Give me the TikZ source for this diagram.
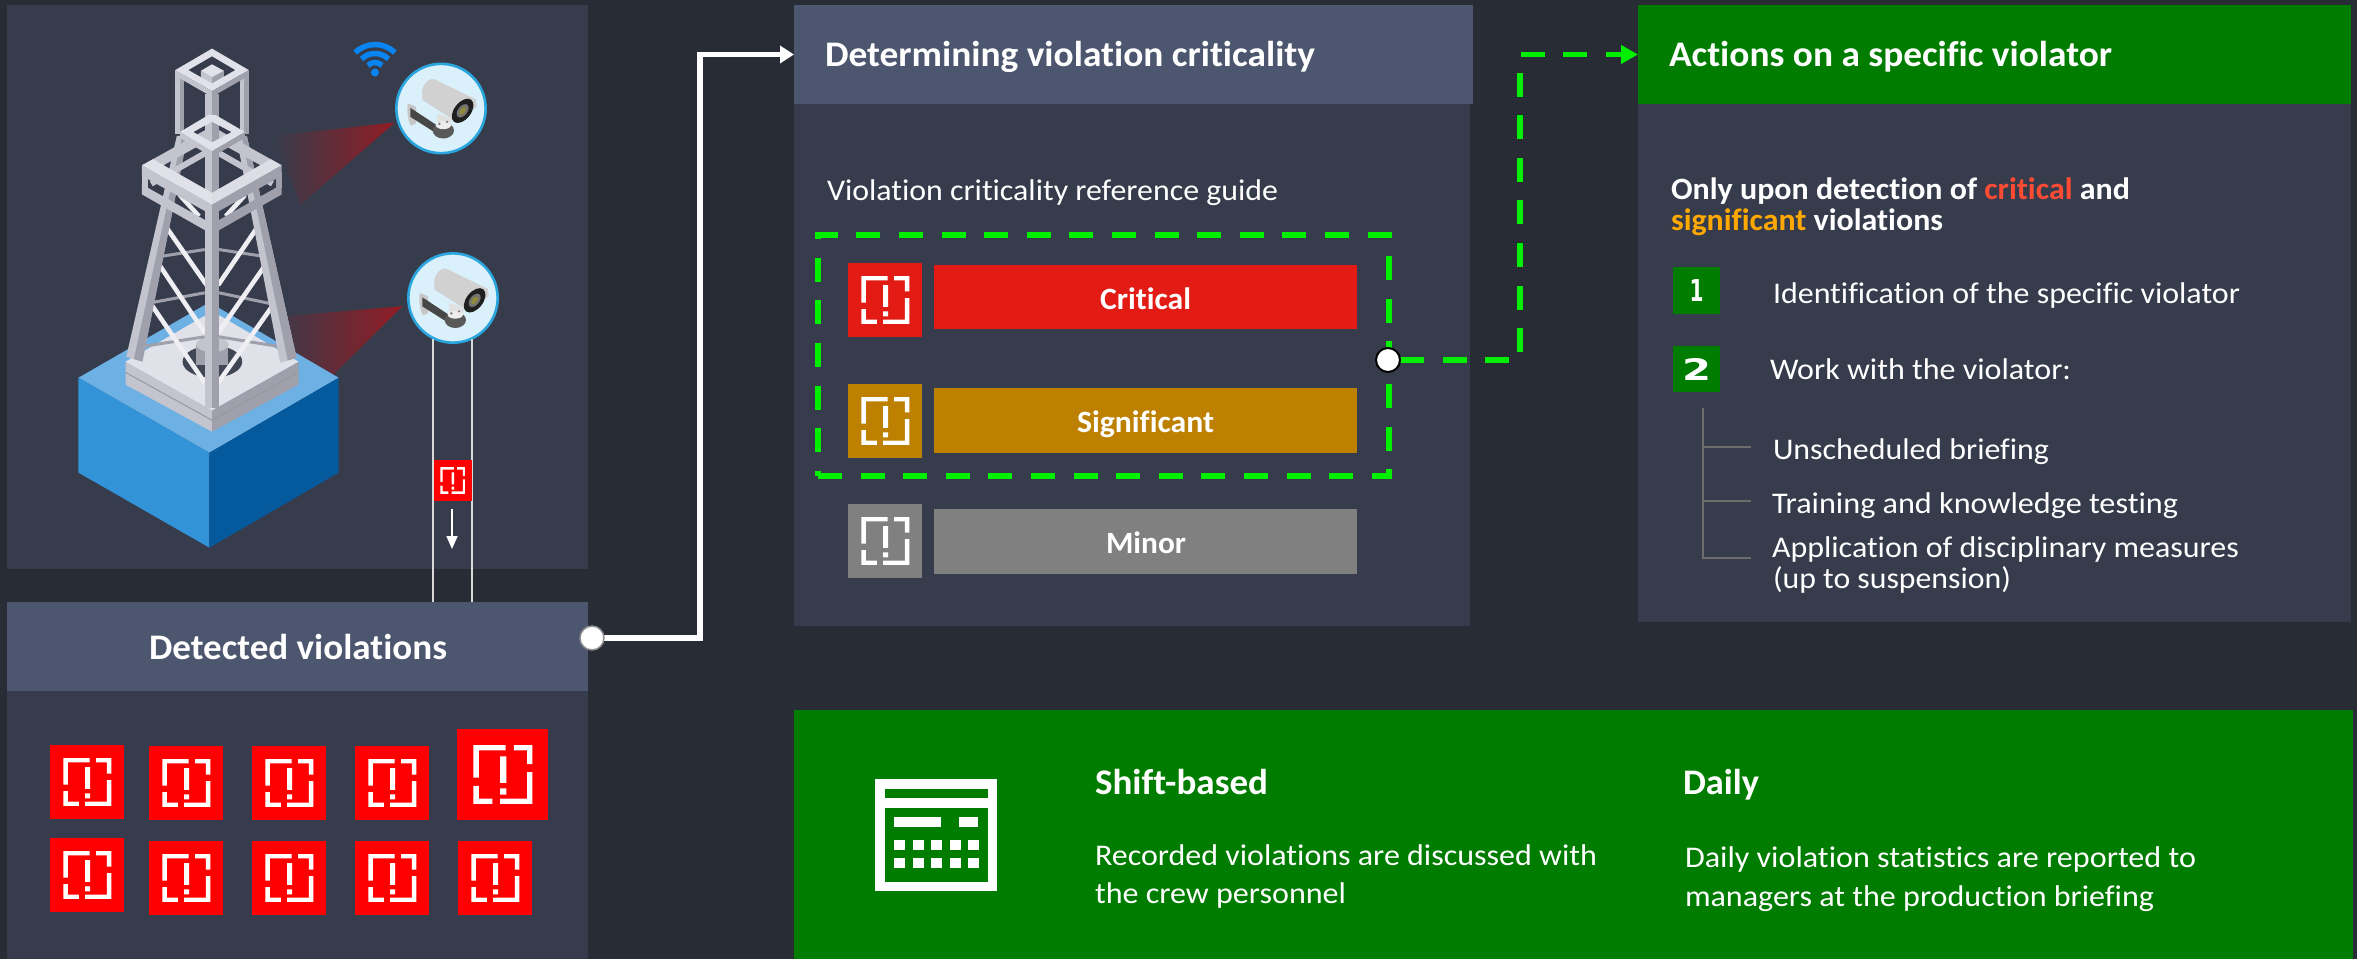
\documentclass[tikz,border=0pt]{standalone}
\usepackage{graphicx}
\usepackage{fontspec}
\setmainfont{Carlito}[Ligatures=NoCommon]
\newfontfamily\digitfont{DejaVu Sans}
\usetikzlibrary{arrows.meta,calc}
\definecolor{pagebg}{HTML}{282C35}
\definecolor{panel}{HTML}{363C4C}
\definecolor{head}{HTML}{4C566E}
\definecolor{dgreen}{HTML}{007D00}
\definecolor{lime}{HTML}{00F000}
\definecolor{critc}{HTML}{E21C14}
\definecolor{sigc}{HTML}{BD8000}
\definecolor{minc}{HTML}{808080}
\definecolor{vred}{HTML}{FF0000}
\definecolor{conered}{HTML}{921C24}
\definecolor{tlight}{HTML}{E0E1E9}
\definecolor{tmid}{HTML}{C4C4CF}
\definecolor{tdark}{HTML}{A0A0AC}
\definecolor{tbrace}{HTML}{EEEEF3}
\definecolor{cyanring}{HTML}{2AA5DE}
\definecolor{camface}{HTML}{DAF1FB}
\definecolor{wifi}{HTML}{0A84F0}
\definecolor{bltop}{HTML}{6CB0E4}
\definecolor{blleft}{HTML}{3293D8}
\definecolor{blright}{HTML}{05599D}
\tikzset{
  pbox/.style={anchor=north west,inner sep=0pt,outer sep=0pt,draw=none},
  reg/.style={font=\fontsize{30}{36}\selectfont,text=white,inner sep=0pt,outer sep=0pt,anchor=base west},
  bld/.style={font=\fontsize{31}{36}\selectfont\bfseries,text=white,inner sep=0pt,outer sep=0pt,anchor=base west},
  ttl/.style={font=\fontsize{36}{40}\selectfont\bfseries,text=white,inner sep=0pt,outer sep=0pt,anchor=base west},
  dot/.style={circle,inner sep=0pt,outer sep=0pt,minimum size=24pt,fill=white},
  tree/.style={draw=minc!85!black,line width=1.3pt},
  digit/.style={inner sep=0pt,text=white,font=\fontsize{28}{30}\digitfont\selectfont\bfseries},
  limedash/.style={draw=lime,line width=5.5pt,dash pattern=on 24pt off 18.6pt}
}
\newcommand\pbx[6]{\node[pbox,fill=#6,minimum width={(#4-#2)*1pt},minimum height={(#5-#3)*1pt}] (#1) at (#2,#3) {};}
\newcommand\lbl[6]{\node[#1] (#2) at (#3,#4) {\resizebox{#5pt}{\height}{#6}};}
\newcommand\vicon[5]{%
  \begin{scope}[shift={(#1,#2)},x=#3pt,y=-#4pt]
    \fill[#5] (0,0) rectangle (1,1);
    \fill[white] (.18,.176) rectangle (.534,.235) (.18,.176) rectangle (.24,.534)
      (.624,.176) rectangle (.828,.235) (.77,.176) rectangle (.828,.385)
      (.18,.624) rectangle (.24,.824) (.18,.765) rectangle (.389,.824)
      (.475,.765) rectangle (.828,.824) (.77,.475) rectangle (.828,.824)
      (.475,.3) rectangle (.543,.593) (.475,.652) rectangle (.543,.72);
  \end{scope}}
\newcommand\camera[2]{%
  \begin{scope}[shift={(#1,#2)},x=.3333pt,y=-.3333pt]
    \fill[camface,draw=cyanring,line width=2.6pt] (0,0) circle (134);
    \fill[white!78!black] (-98,-15) .. controls (-105,-10) and (-100,40) .. (-90,52) -- (-75,45) -- (-75,-5) -- cycle;
    \fill[black!72] (-92,-2) -- (-13,50) -- (-18,72) -- (-92,25) -- cycle;
    \fill[black!65] (7,66) ellipse (32 and 24);
    \fill[white!88!black] (-11,15) -- (10,22) -- (34,32) -- (26,50) -- (7,56) -- (-11,46) -- cycle;
    \fill[white!93!black] (7,50) ellipse (23 and 12);
    \fill[black!50] (-5,46) circle (4) (18,40) circle (4);
    \fill[white!82!black] (-56,-40) .. controls (-62,-65) and (-38,-95) .. (-18,-87) -- (105,-27) -- (107,-5) -- (47,40) -- (-8,5) -- (-56,-25) -- cycle;
    \begin{scope}[shift={(65,7)},rotate=-38]
      \fill[black!88] (0,0) ellipse (25 and 42);
      \fill[black!55] (0,0) ellipse (14 and 23);
      \fill[olive!60!gray] (0,0) ellipse (8 and 13);
    \end{scope}
  \end{scope}}
\begin{document}
\begin{tikzpicture}[x=1pt,y=-1pt]
\useasboundingbox (0,0) rectangle (2357,959);
\fill[pagebg] (0,0) rectangle (2357,959);

% ---- panels
\pbx{scene}{7}{5}{588}{569}{panel}
\pbx{detbody}{7}{691}{588}{959}{panel}
\pbx{dethead}{7}{602}{588}{691}{head}
\pbx{critbody}{794}{104}{1470}{626}{panel}
\pbx{crithead}{794}{5}{1473}{104}{head}
\pbx{actbody}{1638}{104}{2351}{622}{panel}
\pbx{acthead}{1638}{5}{2351}{104}{dgreen}
\pbx{freq}{794}{710}{2353}{959}{dgreen}

% ---- scene (tower drawn directly)
\begin{scope}[x=.3827pt,y=-.3827pt]
  \shade[left color=panel,right color=conered] (1032,320) -- (715,355) -- (785,535) -- cycle;
  \shade[left color=panel!85!conered,right color=conered] (1052,800) -- (745,826) -- (745,1000) -- (872,978) -- cycle;
  % block
  \fill[bltop] (205,987) -- (547,790) -- (885,987) -- (547,1183) -- cycle;
  \fill[blleft] (205,987) -- (547,1183) -- (547,1431) -- (205,1235) -- cycle;
  \fill[blright] (885,987) -- (547,1183) -- (547,1431) -- (885,1235) -- cycle;
  % platform
  \fill[tmid] (328,945) -- (554,1072) -- (554,1128) -- (328,1005) -- cycle;
  \fill[tdark] (780,945) -- (554,1072) -- (554,1128) -- (780,1005) -- cycle;
  \fill[tlight] (328,945) -- (535,825) -- (575,825) -- (780,945) -- (554,1072) -- cycle;
  \draw[black!40,line width=1pt] (328,973) -- (554,1098) -- (780,973);
  \fill[panel!85!gray] (555,945) ellipse (78 and 42);
  \fill[tdark] (512,900) -- (597,900) -- (597,955) -- (512,955) -- cycle;
  \fill[tmid] (555,900) ellipse (43 and 20);
  % thin horizontals
  \begin{scope}[draw=tdark,line width=3pt]
    \draw (420,670) -- (535,652); \draw (572,652) -- (690,670);
    \draw (400,790) -- (535,765); \draw (572,765) -- (715,795);
    \draw (375,905) -- (535,880); \draw (572,880) -- (745,908);
  \end{scope}
  % braces
  \begin{scope}[draw=tbrace,line width=4.6pt]
    \draw (432,590) -- (540,745); \draw (415,690) -- (535,870); \draw (395,795) -- (535,1000);
    \draw (675,590) -- (570,745); \draw (695,690) -- (570,870); \draw (715,795) -- (570,1000);
    \draw (470,510) -- (520,565); \draw (640,510) -- (590,565);
  \end{scope}
  % legs
  \fill[tmid] (462,355) -- (490,355) -- (372,945) -- (330,932) -- cycle;
  \fill[tdark] (476,355) -- (490,355) -- (372,945) -- (350,938) -- cycle;
  \fill[tmid] (618,360) -- (645,355) -- (775,935) -- (732,948) -- cycle;
  \fill[tdark] (632,358) -- (645,355) -- (775,935) -- (752,942) -- cycle;
  % top frame uprights
  \fill[tmid] (458,183) rectangle (470,350); \fill[tdark] (470,190) rectangle (480,350);
  \fill[tmid] (628,190) rectangle (638,350); \fill[tdark] (638,183) rectangle (650,350);
  % lower back rails and large frame, back rails
  \draw[tmid,line width=6pt] (395,480) -- (554,390) -- (712,480);
  \fill[tmid,even odd rule] (371,432) -- (554,330) -- (736,432) -- (554,535) -- cycle (425,433) -- (554,362) -- (683,433) -- (554,504) -- cycle;
  % front mast
  \fill[tmid] (535,245) rectangle (554,1065);
  \fill[tdark] (554,245) rectangle (572,1065);
  % mid frame
  \fill[tlight,even odd rule] (470,345) -- (554,295) -- (640,345) -- (554,395) -- cycle (505,345) -- (554,318) -- (605,345) -- (554,372) -- cycle;
  \fill[tmid] (470,345) -- (554,395) -- (554,410) -- (470,360) -- cycle;
  \fill[tdark] (640,345) -- (554,395) -- (554,410) -- (640,360) -- cycle;
  % top frame
  \fill[tmid] (525,185) -- (554,202) -- (554,232) -- (525,215) -- cycle;
  \fill[tdark] (585,185) -- (554,202) -- (554,232) -- (585,215) -- cycle;
  \fill[tlight] (525,185) -- (554,168) -- (585,185) -- (554,202) -- cycle;
  \fill[tlight,even odd rule] (458,183) -- (554,127) -- (650,183) -- (554,238) -- cycle (492,183) -- (554,147) -- (615,183) -- (554,218) -- cycle;
  \fill[tmid] (458,183) -- (554,238) -- (554,253) -- (458,198) -- cycle;
  \fill[tdark] (650,183) -- (554,238) -- (554,253) -- (650,198) -- cycle;
  \fill[tmid] (542,253) rectangle (554,300); \fill[tdark] (554,253) rectangle (566,300);
  % large frame, front rails
  \fill[tlight] (371,432) -- (400,416) -- (554,504) -- (554,535) -- cycle;
  \fill[tlight!85!tmid] (736,432) -- (707,416) -- (554,504) -- (554,535) -- cycle;
  \fill[tmid] (371,432) -- (554,535) -- (554,562) -- (371,459) -- cycle;
  \fill[tdark] (736,432) -- (554,535) -- (554,562) -- (736,459) -- cycle;
  \fill[tmid] (371,482) -- (554,585) -- (554,612) -- (371,508) -- cycle;
  \fill[tdark] (736,482) -- (554,585) -- (554,612) -- (736,508) -- cycle;
  \fill[tmid] (371,450) rectangle (386,490);
  \fill[tdark] (722,450) rectangle (736,490);
  \fill[tmid] (543,550) rectangle (554,595); \fill[tdark] (554,550) rectangle (565,595);
\end{scope}

% wifi
\fill[wifi] (375,72.5) circle (4);
\draw[wifi,line width=5.5pt] (375,72.5) ++(-45:10) arc (-45:-135:10);
\draw[wifi,line width=5.5pt] (375,72.5) ++(-45:19) arc (-45:-135:19);
\draw[wifi,line width=5.5pt] (375,72.5) ++(-45:28) arc (-45:-135:28);

% cameras
\camera{441}{108.5}
\camera{453}{298}

% falling violation
\coordinate (ra) at (433,339);
\coordinate (rb) at (472,339);
\draw[white!85!black,line width=1.3pt] (ra) -- (ra |- dethead.north);
\draw[white!85!black,line width=1.3pt] (rb) -- (rb |- dethead.north);
\vicon{433.5}{460}{38}{41}{vred}
\coordinate (fa) at (452,509);
\coordinate (fb) at (452,549);
\draw[white,line width=1.8pt,-{Triangle[length=13pt,width=11pt]}] (fa) -- (fb);

% ---- detected violations
\lbl{ttl}{tdet}{149}{659}{298}{Detected violations}
\vicon{50}{745}{74}{74}{vred}
\vicon{149}{746}{74}{74}{vred}
\vicon{252}{746}{74}{74}{vred}
\vicon{355}{746}{74}{74}{vred}
\vicon{457}{729}{91}{91}{vred}
\vicon{50}{838}{74}{74}{vred}
\vicon{149}{841}{74}{74}{vred}
\vicon{252}{841}{74}{74}{vred}
\vicon{355}{841}{74}{74}{vred}
\vicon{458}{841}{74}{74}{vred}

% ---- criticality
\lbl{ttl}{tcrit}{825}{66}{490}{Determining violation criticality}
\lbl{reg}{tguide}{827}{200}{451}{Violation criticality reference guide}
\node[pbox,limedash,minimum width=571pt,minimum height=241pt] (selbox) at (818,235) {};
\vicon{848}{263}{74}{74}{critc}
\pbx{barc}{934}{265}{1357}{329}{critc}
\lbl{bld}{tc}{1100}{309}{91}{Critical}
\vicon{848}{384}{74}{74}{sigc}
\pbx{bars}{934}{388}{1357}{453}{sigc}
\lbl{bld}{ts}{1077}{432}{137}{Significant}
\vicon{848}{504}{74}{74}{minc}
\pbx{barm}{934}{509}{1357}{574}{minc}
\lbl{bld}{tm}{1106}{553}{80}{Minor}

% ---- actions
\lbl{ttl}{tact}{1669}{66}{443}{Actions on a specific violator}
\lbl{bld}{tonly}{1671}{199}{459}{Only upon detection of \textcolor[HTML]{FF4B33}{critical} and}
\lbl{bld}{tsig}{1671}{230}{272}{\textcolor[HTML]{FFA800}{significant} violations}
\pbx{bad1}{1673}{267}{1720}{314}{dgreen}
\node[digit] (n1) at (bad1.center) {\resizebox{14pt}{22pt}{1}};
\pbx{bad2}{1673}{346}{1720}{392}{dgreen}
\node[digit] (n2) at (bad2.center) {\resizebox{29pt}{22pt}{2}};
\lbl{reg}{tid}{1773}{303}{467}{Identification of the specific violator}
\lbl{reg}{twork}{1770}{379}{301}{Work with the violator:}
\lbl{reg}{tuns}{1773}{459}{276}{Unscheduled briefing}
\lbl{reg}{ttrain}{1772}{513}{406}{Training and knowledge testing}
\lbl{reg}{tapp}{1772}{557}{467}{Application of disciplinary measures}
\lbl{reg}{tup}{1773}{588}{238}{(up to suspension)}
\coordinate (tr0) at (1703,408);
\coordinate (tr1) at (1703,447);
\coordinate (tr2) at (1703,501);
\coordinate (tr3) at (1703,558);
\draw[tree] (tr0) -- (tr3) -- ++(48,0);
\draw[tree] (tr1) -- ++(48,0);
\draw[tree] (tr2) -- ++(48,0);

% ---- bottom band
\pbx{calo}{875}{779}{997}{891}{white}
\pbx{cal1}{885}{789}{988}{798}{dgreen}
\pbx{cal2}{885}{808}{988}{882}{dgreen}
\pbx{cals1}{894}{817}{941}{827}{white}
\pbx{cals2}{959}{817}{978}{827}{white}
\foreach \cx in {894,913,931,950,968}{
  \fill[white] (\cx,840) rectangle ++(11,10);
  \fill[white] (\cx,858) rectangle ++(11,10);
}
\lbl{ttl}{tshift}{1095}{794}{173}{Shift-based}
\lbl{ttl}{tdaily}{1683}{794}{76}{Daily}
\lbl{reg}{trec}{1095}{865}{502}{Recorded violations are discussed with}
\lbl{reg}{tcrew}{1095}{903}{251}{the crew personnel}
\lbl{reg}{tstat}{1685}{867}{511}{Daily violation statistics are reported to}
\lbl{reg}{tman}{1685}{906}{469}{managers at the production briefing}

% ---- connectors
\coordinate (w1) at (700,300);
\coordinate (g1) at (1520,200);
\coordinate (c1p) at (592,638);
\coordinate (c2p) at (1388,360);
\draw[white,line width=5.5pt,-{Triangle[length=14pt,width=17pt]}] (c1p) -- (w1 |- c1p) -- (w1 |- crithead.west) -- (crithead.west);
\draw[lime,line width=5.5pt,dash pattern=on 24pt off 18.6pt,-{Triangle[length=17pt,width=18pt]}] (c2p) ++(12,0) -- (g1 |- c2p) -- (g1 |- acthead.west) -- (acthead.west);
\node[dot,draw=white!55!black,line width=1.5pt] (c1) at (c1p) {};
\node[dot,draw=black,line width=2pt] (c2) at (c2p) {};
\end{tikzpicture}
\end{document}
